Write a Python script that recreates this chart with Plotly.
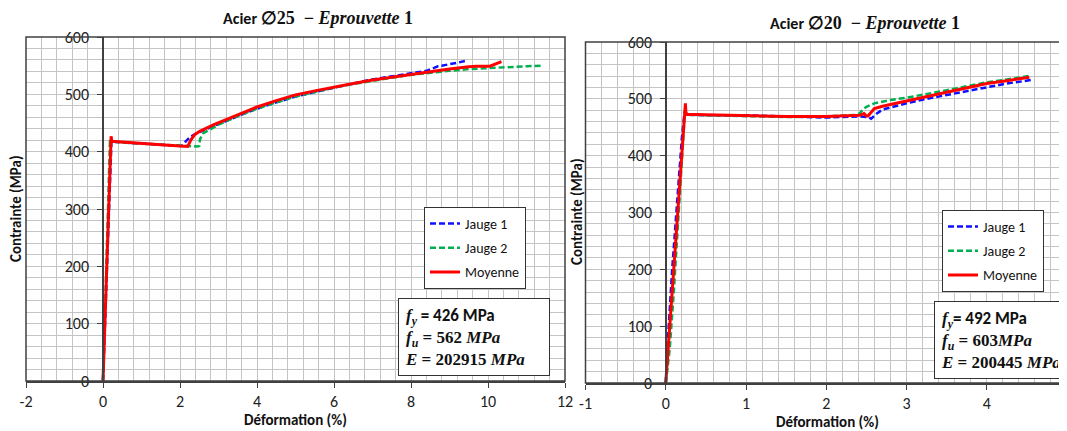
import plotly.graph_objects as go

# ---------------- data: Acier Ø25 ----------------
j1_25_x = [0, 0.05, 0.10, 0.15, 0.19, 0.22, 0.5, 1.0, 1.5, 2.0, 2.05, 2.15, 2.25, 2.4, 2.6, 3.0, 3.5,
           4.0, 4.5, 5.0, 5.5, 6.0, 6.5, 7.0, 7.5, 8.0, 8.4, 8.6, 8.7, 8.8, 9.0, 9.2, 9.4]
j1_25_y = [0, 95, 190, 290, 380, 418, 416, 414, 412, 409, 410, 418, 425, 431, 437, 448, 462,
           475, 486, 496, 504, 512, 519, 526, 531, 537, 541, 546, 549, 550, 552, 555, 558]
j2_25_x = [0, 0.05, 0.1, 0.15, 0.18, 0.5, 1.0, 1.5, 2.0, 2.3, 2.45, 2.5, 2.52, 2.6, 3.0, 3.5, 4, 4.5,
           5, 5.5, 6, 6.5, 7, 7.5, 8, 8.5, 9, 9.5, 10, 10.5, 11, 11.4]
j2_25_y = [0, 110, 220, 330, 418, 416, 414, 412, 411, 410, 409, 410, 422, 432, 447, 462, 475, 486,
           496, 504, 512, 518, 524, 529, 534, 538, 541, 544, 546, 548, 549, 550]
moy_25_x = [0, 0.1, 0.2, 0.21, 0.23, 0.6, 1.0, 1.5, 2.0, 2.2, 2.28, 2.37, 2.5, 2.88, 3.5, 4.0, 4.5,
            5.0, 5.5, 6.0, 6.5, 7.0, 7.5, 8.0, 8.5, 9.0, 9.5, 9.7, 10.05, 10.2, 10.35]
moy_25_y = [0, 205, 410, 427, 418, 416, 414, 412, 410, 409, 420, 429, 435, 447, 464, 478, 489,
            499, 506, 513, 519, 525, 530, 535, 539, 544, 548, 549, 549, 553, 557]

# ---------------- data: Acier Ø20 ----------------
j1_20_x = [0, 0.02, 0.08, 0.15, 0.2, 0.23, 0.24, 0.26, 0.5, 1.0, 1.5, 2.0, 2.4, 2.52, 2.56, 2.62,
           2.7, 2.8, 3.0, 3.25, 3.5, 3.75, 4.0, 4.25, 4.55]
j1_20_y = [0, 60, 200, 340, 430, 470, 478, 472, 471, 471, 469, 467, 469, 468, 465, 473,
           481, 485, 492, 500, 507, 514, 521, 527, 533]
j2_20_x = [0, 0.05, 0.1, 0.15, 0.2, 0.24, 0.26, 0.5, 1.0, 1.5, 2.0, 2.4, 2.45, 2.5, 2.6, 2.8, 3.0,
           3.25, 3.5, 3.75, 4.0, 4.25, 4.52]
j2_20_y = [0, 60, 160, 270, 390, 480, 472, 471, 469, 468, 469, 472, 480, 486, 492, 498, 502,
           508, 515, 522, 529, 534, 540]
moy_20_x = [0, 0.1, 0.2, 0.232, 0.245, 0.25, 0.26, 0.5, 1.0, 1.5, 2.0, 2.3, 2.42, 2.47, 2.5, 2.52,
            2.6, 2.7, 2.8, 3.0, 3.25, 3.5, 3.75, 4.0, 4.25, 4.53]
moy_20_y = [0, 205, 410, 475, 492, 478, 473, 472, 470, 469, 469, 470, 471, 474, 470, 470,
            483, 487, 490, 496, 504, 511, 519, 527, 532, 538]

series_names = ["Jauge 1", "Jauge 2", "Moyenne"]
y_ticks = [0, 100, 200, 300, 400, 500, 600]
x_ticks_25 = [-2, 0, 2, 4, 6, 8, 10, 12]
x_ticks_20 = [-1, 0, 1, 2, 3, 4, 5]

# the page body has an 8px margin: size the figure so it fits the window
OFF = 8
W, H = 1067 - OFF, 431 - OFF
SANS = "Carlito, Noto Sans, Liberation Sans, sans-serif"
SERIF = "Liberation Serif, DejaVu Serif, serif"
BLUE, GREEN, RED = "#1010ff", "#00b050", "#ff0000"
GRID = "#c4c4c4"
AX = "#404040"

def px(x):
    return (x - OFF) / W

def py(y):
    return 1 - (y - OFF) / H

fig = go.Figure()

styles = [dict(color=BLUE, width=2.5, dash="6px,3px"),
          dict(color=GREEN, width=2.5, dash="6px,3px"),
          dict(color=RED, width=3)]

for (xs, ys), name, st in zip([(j1_25_x, j1_25_y), (j2_25_x, j2_25_y), (moy_25_x, moy_25_y)],
                              series_names, styles):
    fig.add_trace(go.Scatter(x=xs, y=ys, mode="lines", name=name, line=st,
                             xaxis="x", yaxis="y", legend="legend", legendgroup="a" + name))
for (xs, ys), name, st in zip([(j1_20_x, j1_20_y), (j2_20_x, j2_20_y), (moy_20_x, moy_20_y)],
                              series_names, styles):
    fig.add_trace(go.Scatter(x=xs, y=ys, mode="lines", name=name, line=st,
                             xaxis="x2", yaxis="y2", legend="legend2", legendgroup="b" + name))

tickfont = dict(family=SANS, size=16, color="#222")

def xaxis(rng, ticks, minor, dom, anchor):
    return dict(range=rng, domain=dom, anchor=anchor, tickvals=ticks, ticktext=[str(t) for t in ticks],
                showgrid=True, gridcolor=GRID, gridwidth=1, zeroline=False, automargin=False,
                minor=dict(dtick=minor, showgrid=True, gridcolor=GRID, gridwidth=1, tick0=0),
                showline=True, linecolor=AX, linewidth=1.5, ticks="outside", ticklen=5, tickcolor=AX,
                tickfont=tickfont, fixedrange=True)

def yaxis(dom, pos):
    return dict(range=[0, 600], domain=dom, anchor="free", position=pos, tickvals=y_ticks,
                ticktext=[str(t) for t in y_ticks], showgrid=True, gridcolor=GRID, gridwidth=1,
                zeroline=False, automargin=False,
                minor=dict(dtick=20, showgrid=True, gridcolor=GRID, gridwidth=1),
                showline=True, linecolor=AX, linewidth=1.5, ticks="outside", ticklen=5, tickcolor=AX,
                tickfont=tickfont, ticklabelstandoff=5, fixedrange=True)

dom_x1 = [px(26), px(565)]
dom_y1 = [py(381), py(37)]
dom_x2 = [px(585.5), 1.0]
dom_y2 = [py(383), py(42)]

legend_common = dict(bgcolor="white", bordercolor="#333", borderwidth=1,
                     font=dict(family=SANS, size=14, color="#111"), tracegroupgap=3,
                     xanchor="right", yanchor="top", itemwidth=30)

fig.update_layout(
    template="none",
    width=W, height=H, margin=dict(l=0, r=0, t=0, b=0, autoexpand=False),
    paper_bgcolor="white", plot_bgcolor="white",
    xaxis=xaxis([-2, 12], x_ticks_25, 0.4, dom_x1, "y"),
    yaxis=yaxis(dom_y1, px(103)),
    xaxis2=xaxis([-1, 5], x_ticks_20, 0.2, dom_x2, "y2"),
    yaxis2=yaxis(dom_y2, px(666)),
    legend=dict(x=px(526), y=py(207), **legend_common),
    legend2=dict(x=px(1044), y=py(210), **legend_common),
    showlegend=True,
)

# plot frames
for xr, yr in [("x domain", "y domain"), ("x2 domain", "y2 domain")]:
    fig.add_shape(type="rect", xref=xr, yref=yr, x0=0, x1=1, y0=0, y1=1,
                  line=dict(color=AX, width=1.5), layer="above")

def ann(text, x, y, **kw):
    d = dict(text=text, x=x, y=y, xref="paper", yref="paper", showarrow=False,
             xanchor="center", yanchor="middle")
    d.update(kw)
    fig.add_annotation(**d)

title_tpl = ('<b>Acier <span style="font-family:' + SERIF + ';font-size:18px">∅{d}  − <i>Eprouvette</i> 1</span></b>')
ann(title_tpl.format(d=25), px(318), py(18), font=dict(family=SANS, size=16, color="#111"))
ann(title_tpl.format(d=20), px(865), py(23), font=dict(family=SANS, size=16, color="#111"))

for xc, yc in [(16, 209), (577, 212)]:
    ann("<b>Contrainte (MPa)</b>", px(xc), py(yc), textangle=-90,
        font=dict(family=SANS, size=15, color="#111"))
for xc, yc in [(295, 420), (827, 422)]:
    ann("<b>Déformation (%)</b>", px(xc), py(yc), font=dict(family=SANS, size=15, color="#111"))

def box_text(fy, fu, E, sp1, sp2):
    l1 = ('<i>f<sub>y</sub></i><span style="font-family:' + SANS + '">' + sp1 + '= ' + fy + ' MPa</span>')
    l2 = '<i>f<sub>u</sub></i> = ' + fu + sp2 + '<i>MPa</i>'
    l3 = '<i>E</i> = ' + E + ' <i>MPa</i>'
    return '<b>' + l1 + '<br>' + l2 + '<br>' + l3 + '</b>'

box_common = dict(xanchor="left", yanchor="top", align="left", bgcolor="white",
                  bordercolor="#333", borderwidth=1, borderpad=6,
                  font=dict(family=SERIF, size=17, color="#111"))
ann(box_text("426", "562", "202915", " ", " "), px(398), py(298), width=138, **box_common)
ann(box_text("492", "603", "200445", "", ""), px(934), py(301), width=117, **box_common)

fig.write_html("out.html")
